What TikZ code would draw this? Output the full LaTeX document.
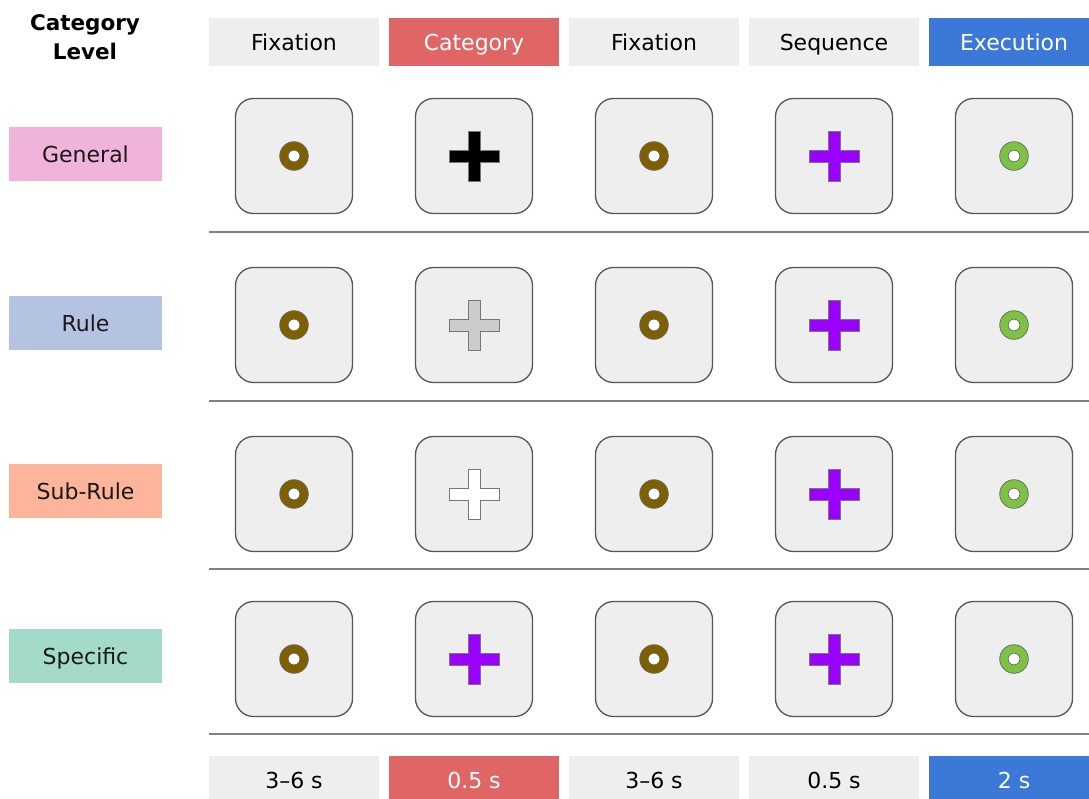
\documentclass[tikz,border=0pt]{standalone}
\usepackage{fontspec}
\setmainfont{DejaVu Sans}
\usetikzlibrary{calc}
\definecolor{hgray}{HTML}{EEEEEE}
\definecolor{hred}{HTML}{E06666}
\definecolor{hblue}{HTML}{3C78D8}
\definecolor{cpink}{HTML}{F0B3D9}
\definecolor{crule}{HTML}{B4C3E1}
\definecolor{csub}{HTML}{FCB59A}
\definecolor{cspec}{HTML}{A3DACA}
\definecolor{brown}{HTML}{7F6000}
\definecolor{green}{HTML}{7DC242}
\definecolor{purple}{HTML}{9900FF}
\definecolor{crossgray}{HTML}{CCCCCC}
\definecolor{edge}{HTML}{555555}
\definecolor{sep}{HTML}{808080}
\tikzset{
  txt/.style={font=\fontsize{22}{26}\selectfont, text height=16pt, text depth=0pt},
  hdr/.style={rectangle, minimum width=170pt, minimum height=48pt, inner sep=0pt, txt},
  lbl/.style={rectangle, minimum width=153pt, minimum height=54pt, inner sep=0pt, text=black!90, txt},
  screen/.style={rectangle, rounded corners=18pt, minimum width=117pt, minimum height=115pt, fill=hgray, draw=edge, line width=1.3pt},
  sepline/.style={draw=sep, line width=2pt},
  crossline/.style={draw=edge!80, line width=0.9pt}
}
\newcommand\plusmark[2]{%
  \draw[crossline, fill=#2, shift={(#1.center)}] (-6,-25) -- (6,-25) -- (6,-6) -- (25,-6) -- (25,6) -- (6,6) -- (6,25) -- (-6,25) -- (-6,6) -- (-25,6) -- (-25,-6) -- (-6,-6) -- cycle;}
\newcommand\ringmark[2]{%
  \draw[draw=edge!90, line width=0.7pt, fill=#2, even odd rule, shift={(#1.center)}] (0,0) circle[radius=14.3pt] (0,0) circle[radius=5.8pt];
  \fill[white, shift={(#1.center)}] (0,0) circle[radius=5.4pt];}
\begin{document}
\begin{tikzpicture}[x=1pt, y=-1pt]
\useasboundingbox (0,0) rectangle (1089,798);
\clip (0,0) rectangle (1089,798);
% title
\node[font=\bfseries\fontsize{21.5}{29}\selectfont, align=center] (title) at (85,37) {Category\\Level};
% headers
\node[hdr, fill=hgray] (h1) at (294,42) {Fixation};
\node[hdr, fill=hred, text=white] (h2) at (474,42) {Category};
\node[hdr, fill=hgray] (h3) at (654,42) {Fixation};
\node[hdr, fill=hgray] (h4) at (834,42) {Sequence};
\node[hdr, fill=hblue, text=white] (h5) at (1014,42) {Execution};
% footers
\node[hdr, fill=hgray] (f1) at (294,780) {3–6 s};
\node[hdr, fill=hred, text=white] (f2) at (474,780) {0.5 s};
\node[hdr, fill=hgray] (f3) at (654,780) {3–6 s};
\node[hdr, fill=hgray] (f4) at (834,780) {0.5 s};
\node[hdr, fill=hblue, text=white] (f5) at (1014,780) {2 s};
% row labels
\node[lbl, fill=cpink] (l1) at (85.5,154) {General};
\node[lbl, fill=crule] (l2) at (85.5,323) {Rule};
\node[lbl, fill=csub] (l3) at (85.5,491) {Sub-Rule};
\node[lbl, fill=cspec] (l4) at (85.5,656) {Specific};
% separators
\foreach \y in {232,401,569,734} \draw[sepline] (209,\y) -- (1089,\y);
% screens
\foreach \r/\y in {1/156,2/325,3/494,4/659} {
  \foreach \c/\x in {1/294,2/474,3/654,4/834,5/1014} {
    \node[screen] (s\r\c) at (\x,\y) {};
  }
  \ringmark{s\r1}{brown}
  \ringmark{s\r3}{brown}
  \ringmark{s\r5}{green}
  \plusmark{s\r4}{purple}
}
\plusmark{s12}{black}
\plusmark{s22}{crossgray}
\plusmark{s32}{white}
\plusmark{s42}{purple}
\end{tikzpicture}
\end{document}
